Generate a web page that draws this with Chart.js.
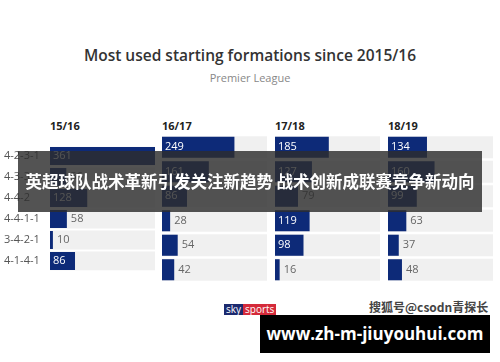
<!DOCTYPE html>
<html lang="en">
<head>
<meta charset="UTF-8">
<title>Most used starting formations</title>
<script src="https://cdn.jsdelivr.net/npm/chart.js"></script>
<style>
    body { margin: 0; background: #fff; }
    #page { position: relative; width: 500px; height: 362px; overflow: hidden; font-family: "Open Sans", sans-serif; }
    .abs { position: absolute; }
    #title { left: 0; width: 500px; top: 44px; text-align: center; font-size: 15.5px; font-weight: 600; color: #333; }
    #sub { left: 0; width: 500px; top: 70px; text-align: center; font-size: 11px; color: #888; }
    .season { top: 118px; font-size: 11px; font-weight: 700; color: #222; }
    canvas { position: absolute; }
    #band { left: 18px; top: 151px; width: 464px; height: 61px; background: rgba(45,45,45,0.82);
            color: #fff; font-family: "Noto Sans CJK SC", sans-serif; font-weight: 700; font-size: 16.5px;
            line-height: 61px; text-align: center; white-space: nowrap; }
    #sky { left: 224px; top: 304px; height: 11px; font-size: 10px; line-height: 11px; color: #fff; font-family: "Open Sans", sans-serif; }
    #sky span { display: inline-block; padding: 0 2px; }
    #mark { left: 369px; top: 298px; font-family: "Noto Sans CJK SC", sans-serif; font-size: 12px; color: #444; font-weight: 700; }
    #banner { left: 260px; top: 315px; width: 230px; height: 38px; background: #000; color: #fff;
              font-family: "Open Sans", sans-serif; font-weight: 700; font-size: 17px; line-height: 38px; text-align: center; }
</style>
</head>
<body>
<div id="page">
    <div id="title" class="abs">Most used starting formations since 2015/16</div>
    <div id="sub" class="abs">Premier League</div>
    <div class="abs season" style="left:50px">15/16</div>
    <div class="abs season" style="left:162px">16/17</div>
    <div class="abs season" style="left:275px">17/18</div>
    <div class="abs season" style="left:388px">18/19</div>
    <canvas id="c0"></canvas>
    <canvas id="c1"></canvas>
    <canvas id="c2"></canvas>
    <canvas id="c3"></canvas>
    <div id="band" class="abs">英超球队战术革新引发关注新趋势 战术创新成联赛竞争新动向</div>
    <div id="sky" class="abs"><span style="background:#1c2a6e">sky</span><span style="background:#d42a3a">sports</span></div>
    <div id="mark" class="abs">搜狐号@csodn青探长</div>
    <div id="banner" class="abs">www.zh-m-jiuyouhui.com</div>
</div>
<script>
    const formacoes = ['4-2-3-1', '4-3-3', '4-4-2', '4-4-1-1', '3-4-2-1', '4-1-4-1'];
    const temporadas = ['15/16', '16/17', '17/18', '18/19'];
    const jogos1516 = [361, 56, 128, 58, 10, 86];
    const jogos1617 = [249, 161, 86, 28, 54, 42];
    const jogos1718 = [185, 127, 79, 119, 98, 16];
    const jogos1819 = [134, 160, 99, 63, 37, 48];
    const series = [jogos1516, jogos1617, jogos1718, jogos1819];
    const maximo = 361;

    // posicoes dos paineis
    const paineis = [
        { left: 0, width: 155, axis: true },
        { left: 162, width: 105, axis: false },
        { left: 275, width: 105, axis: false },
        { left: 388, width: 105, axis: false }
    ];

    // escreve os numeros dentro ou fora da barra
    const rotulos = {
        id: 'rotulos',
        afterDatasetsDraw(chart) {
            const ctx = chart.ctx;
            const meta = chart.getDatasetMeta(1);
            const valores = chart.data.datasets[1].data;
            ctx.save();
            ctx.font = '11px "Open Sans", sans-serif';
            ctx.textBaseline = 'middle';
            meta.data.forEach((bar, i) => {
                const w = bar.x - bar.base;
                if (w > 24) {
                    ctx.fillStyle = '#ffffff';
                    ctx.fillText(valores[i], bar.base + 3, bar.y);
                } else {
                    ctx.fillStyle = '#666666';
                    ctx.fillText(valores[i], bar.x + 4, bar.y);
                }
            });
            ctx.restore();
        }
    };

    series.forEach((valores, k) => {
        const p = paineis[k];
        const cv = document.getElementById('c' + k);
        cv.style.left = p.left + 'px';
        cv.style.top = '135px';
        cv.width = p.width;
        cv.height = 147;
        const eixoY = {
            display: p.axis,
            grid: { display: false },
            border: { display: false },
            ticks: { color: '#555', crossAlign: 'far', font: { size: 11, family: '"Open Sans", sans-serif' }, padding: 4 }
        };
        if (p.axis) eixoY.afterFit = s => { s.width = 46; };
        new Chart(cv.getContext('2d'), {
            type: 'bar',
            data: {
                labels: formacoes,
                datasets: [
                    { data: formacoes.map(() => maximo), backgroundColor: '#f0f0f0', grouped: false, order: 2,
                      barPercentage: 1, categoryPercentage: 0.9 },
                    { data: valores, backgroundColor: '#0d2a78', grouped: false, order: 1,
                      barPercentage: 1, categoryPercentage: 0.86 }
                ]
            },
            options: {
                indexAxis: 'y',
                responsive: false,
                animation: false,
                events: [],
                layout: { padding: { left: p.axis ? 4 : 0, right: 0, top: 0, bottom: 0 } },
                plugins: { legend: { display: false }, tooltip: { enabled: false } },
                scales: {
                    x: { display: false, min: 0, max: maximo },
                    y: eixoY
                }
            },
            plugins: [rotulos]
        });
    });
</script>
</body>
</html>
